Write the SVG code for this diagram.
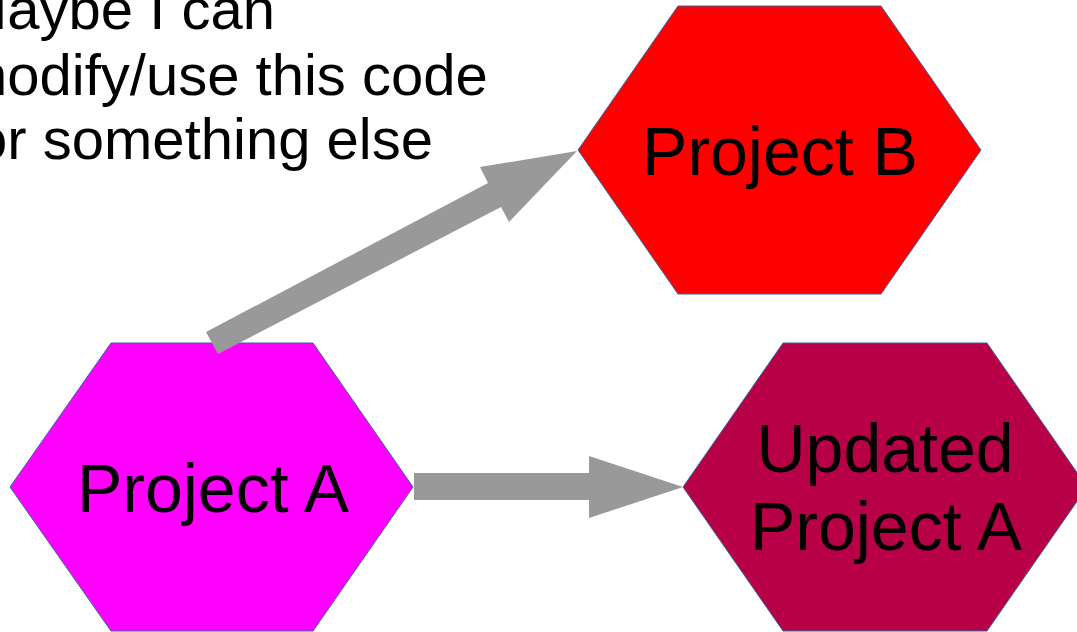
<svg xmlns="http://www.w3.org/2000/svg" width="1077" height="632" viewBox="0 0 1077 632">
<style>
.hex{stroke:#3465a4;stroke-width:1}
.lbl{font-family:"Liberation Sans",Arial,sans-serif;font-size:68px;fill:#000;text-anchor:middle}
.note{font-family:"Liberation Sans",Arial,sans-serif;font-size:58px;fill:#000}
.arr{fill:#999999}
</style>
<rect width="1077" height="632" fill="#ffffff"/>
<g id="note">
<text class="note" x="-41" y="29">Maybe I can</text>
<text class="note" x="-41" y="95">modify/use this code</text>
<text class="note" x="-41" y="159">for something else</text>
</g>
<g id="projectB">
<polygon class="hex" fill="#ff0000" points="578,150 678,6 881,6 981,150 881,294 678,294"/>
<text class="lbl" x="780" y="175">Project B</text>
</g>
<g id="projectA">
<polygon class="hex" fill="#ff00ff" points="10,487 111,343 313,343 413,487 313,631 111,631"/>
<text class="lbl" x="213" y="512">Project A</text>
</g>
<g id="updatedA">
<polygon class="hex" fill="#b80047" points="683,487 783,343 987,343 1087,487 987,631 783,631"/>
<text class="lbl" x="885" y="472">Updated</text>
<text class="lbl" x="886" y="550">Project A</text>
</g>
<g id="connectors">
<polygon class="arr" points="206,332 488,183 480,167 577,151 509,222 501,207 218,354"/>
<polygon class="arr" points="414,473 589,473 589,456 683,487 589,518 589,500 414,500"/>
</g>
</svg>
